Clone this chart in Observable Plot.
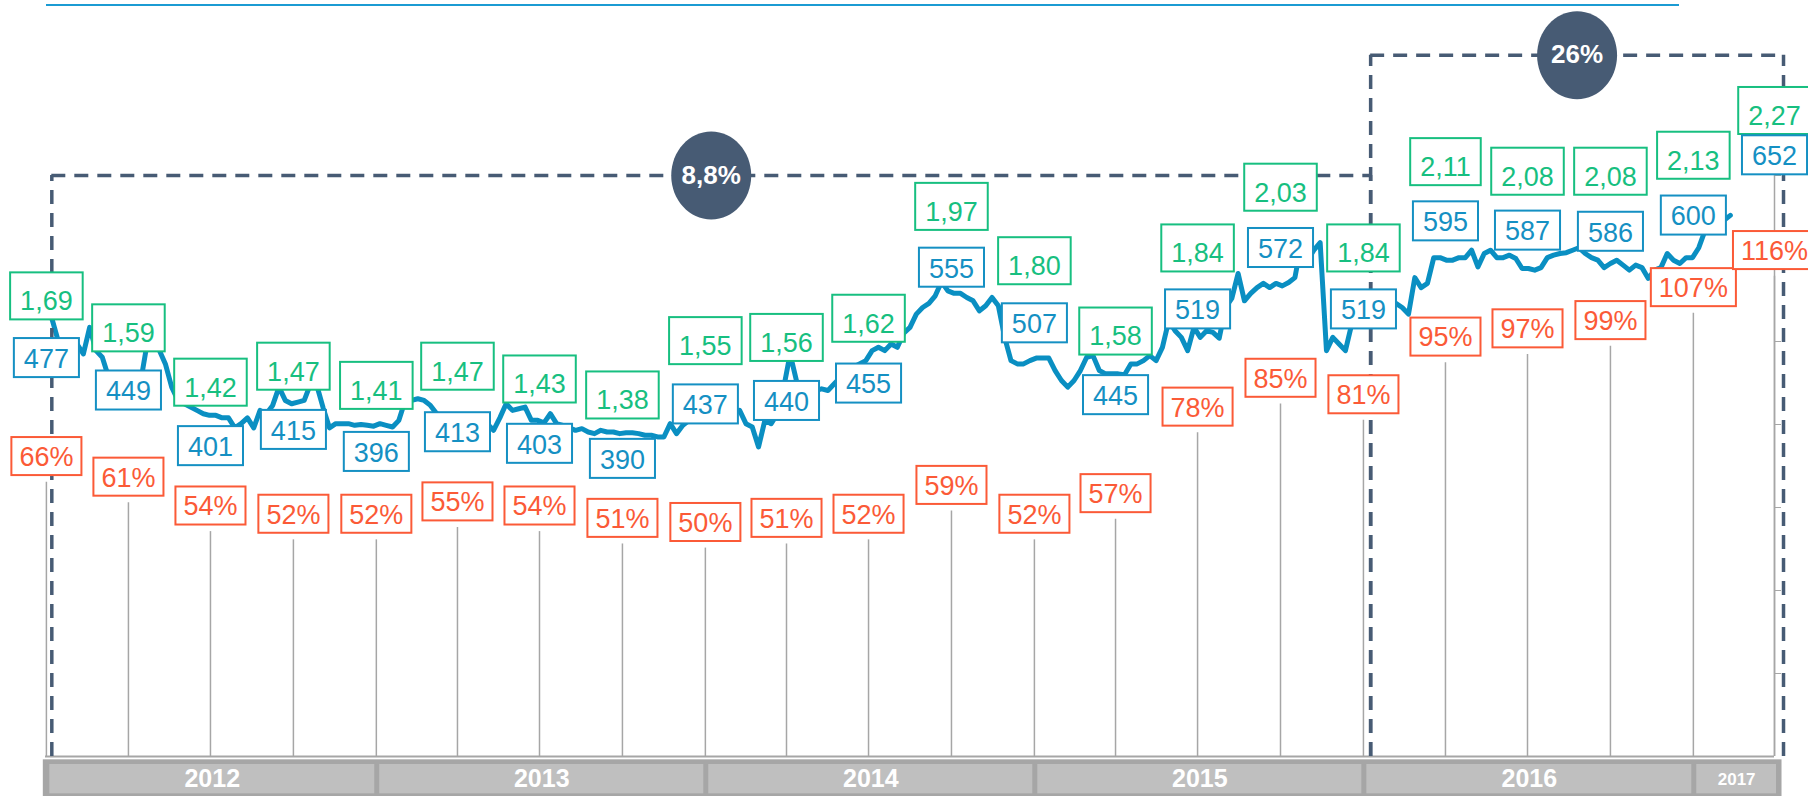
<!DOCTYPE html>
<html>
<head>
<meta charset="utf-8">
<script src="https://cdn.jsdelivr.net/npm/d3@7"></script>
<script src="https://cdn.jsdelivr.net/npm/@observablehq/plot@0.6"></script>
<style>
  html, body { margin: 0; padding: 0; background: #ffffff; }
  #header { height: 10px; position: relative; }
  #header .rule { position: absolute; left: 46px; top: 4px; width: 1633px; height: 2px; background: #1b9bd3; }
  #chart svg { display: block; overflow: visible; }
</style>
</head>
<body>
<div id="header"><div class="rule"></div></div>
<div id="chart"></div>
<script>
// ---------- DATA ----------
const quarterEnds = ["2011-12-31","2012-03-31","2012-06-30","2012-09-30","2012-12-31","2013-03-31","2013-06-30","2013-09-30","2013-12-31","2014-03-31","2014-06-30","2014-09-30","2014-12-31","2015-03-31","2015-06-30","2015-09-30","2015-12-31","2016-03-31","2016-06-30","2016-09-30","2016-12-31","2017-03-31"];
const greenRatio = [1.69,1.59,1.42,1.47,1.41,1.47,1.43,1.38,1.55,1.56,1.62,1.97,1.80,1.58,1.84,2.03,1.84,2.11,2.08,2.08,2.13,2.27];
const bluePrice  = [477,449,401,415,396,413,403,390,437,440,455,555,507,445,519,572,519,595,587,586,600,652];
const redPct     = [66,61,54,52,52,55,54,51,50,51,52,59,52,57,78,85,81,95,97,99,107,116];

const years      = ["2012","2013","2014","2015","2016","2017"];
const yearStarts = ["2012-01-01","2013-01-01","2014-01-01","2015-01-01","2016-01-01","2017-01-01"];
const yearEnds   = ["2013-01-01","2014-01-01","2015-01-01","2016-01-01","2017-01-01","2017-04-05"];

const periodLabels = ["8,8%","26%"];
const periodStarts = ["2012-01-06","2016-01-08"];
const periodEnds   = ["2016-01-08","2017-04-10"];

// weekly closing values, one per week from seriesStart
const seriesStart = "2012-01-06";
const weeklyClose = [
  528,501,493,487,497,485,517,489,481,457,
  457,451,449,448,448,493,493,490,473,445,
  429,425,421,417,413,411,411,408,408,396,
  401,408,396,417,413,423,445,429,425,427,
  429,449,447,420,396,401,401,401,399,400,
  399,398,401,399,397,405,429,429,431,429,
  423,413,408,405,403,401,396,393,397,401,
  393,408,425,417,419,421,405,405,402,413,
  401,399,396,393,395,391,389,393,391,391,
  389,390,390,389,387,387,385,385,401,389,
  399,405,407,408,410,413,413,414,414,417,
  401,397,373,405,401,413,445,485,453,445,
  441,441,443,441,449,457,465,469,473,477,
  489,493,489,497,493,510,517,533,541,546,
  555,572,561,558,558,553,549,537,543,553,
  543,505,477,473,473,477,480,480,480,465,
  453,445,453,465,481,483,465,461,461,461,
  460,473,473,477,483,477,493,525,513,505,
  489,517,505,513,511,504,541,552,582,549,
  558,565,570,565,570,567,571,577,618,598,
  610,619,489,505,497,489,521,525,531,525,
  533,529,541,546,541,533,577,565,570,601,
  601,598,598,601,601,610,590,606,610,601,
  601,604,600,588,588,586,589,601,604,606,
  607,610,613,606,601,598,589,594,598,592,
  586,592,589,576,586,589,606,598,594,601,
  601,613,634,646,654,646,652
];

// ---------- STYLE ----------
const FONT = "'Liberation Sans', Arial, sans-serif";
const GREEN = "#17bf80", BLUE = "#1590c3", RED = "#fb5a37";
const LINE = "#0a8fc2", SLATE = "#475b74", GRAY = "#a6a6a6", LIGHT = "#bfbfbf";
const FS = 27;

// label placement (value -> position on the price scale)
const greenPos = g => 385.1 * g - 95.3;
const bluePos  = v => 1.396 * v - 184.7;
const redPos   = p => 34.9 + 4.964 * p;

// ---------- TABLES ----------
const parse = s => new Date(s + "T00:00:00Z");
const quarters = quarterEnds.map((d, i) => ({date: parse(d), g: greenRatio[i], b: bluePrice[i], r: redPct[i]}));
const start = parse(seriesStart);
const series = weeklyClose.map((v, i) => ({date: d3.utcDay.offset(start, 7 * i), value: v}));
const yearRows = years.map((y, i) => ({label: y, x1: parse(yearStarts[i]), x2: parse(yearEnds[i])}));
const bandRow = [{x1: parse(yearStarts[0]), x2: parse(yearEnds[yearEnds.length - 1])}];
const bracketTop = [700, 845];
const periods = periodLabels.map((l, i) => ({label: l, start: parse(periodStarts[i]), end: parse(periodEnds[i]), top: bracketTop[i]}));
const mid = d => new Date((+d.start + +d.end) / 2);

const ellipse = {
  draw(ctx) {
    const rx = 40, ry = 44, k = 0.5523;
    ctx.moveTo(rx, 0);
    ctx.bezierCurveTo(rx, k * ry, k * rx, ry, 0, ry);
    ctx.bezierCurveTo(-k * rx, ry, -rx, k * ry, -rx, 0);
    ctx.bezierCurveTo(-rx, -k * ry, -k * rx, -ry, 0, -ry);
    ctx.bezierCurveTo(k * rx, -ry, rx, -k * ry, rx, 0);
    ctx.closePath();
  }
};

const dash = {stroke: SLATE, strokeWidth: 3.5, strokeDasharray: "14,9"};

const svg = Plot.plot({
  width: 1808,
  height: 786,
  marginTop: 0,
  marginBottom: 40,
  marginLeft: 45,
  marginRight: 34,
  style: {fontFamily: FONT, color: GRAY, background: "#ffffff", overflow: "visible"},
  x: {type: "utc", domain: [parse("2011-12-30"), parse("2017-03-31")], axis: null},
  y: {domain: [0, 898.8], axis: "right", ticks: [100, 200, 300, 400, 500, 600, 700], tickSize: 6, tickFormat: () => "", label: null},
  marks: [
    // year band
    Plot.rect(bandRow, {x1: "x1", x2: "x2", y1: -4, y2: -48.2, fill: GRAY, insetLeft: -4, insetRight: -3}),
    Plot.rect(yearRows, {x1: "x1", x2: "x2", y1: -9.6, y2: -45, fill: LIGHT, insetLeft: 2.5, insetRight: 2.5}),
    Plot.text(yearRows, {x: d => new Date((+d.x1 + +d.x2) / 2), y: -27.5, text: "label", fill: "white", fontWeight: "bold",
      fontSize: d => d.label === "2017" ? 17 : 25}),
    // stems
    Plot.ruleX(quarters, {x: "date", y1: 0, y2: d => redPos(d.r) - 32, stroke: GRAY, strokeWidth: 1.5}),
    Plot.ruleY([0], {stroke: GRAY, strokeWidth: 2}),
    Plot.ruleX([parse("2017-03-31")], {y1: 0, y2: 700, stroke: GRAY, strokeWidth: 1.5}),
    // price line
    Plot.line(series, {x: "date", y: "value", stroke: LINE, strokeWidth: 5, strokeLinejoin: "round", strokeLinecap: "round"}),
    // period brackets
    Plot.ruleX(periods, {x: "start", y1: 0, y2: "top", ...dash}),
    Plot.ruleX(periods, {x: "end", y1: 0, y2: "top", ...dash}),
    Plot.ruleY(periods, {y: "top", x1: "start", x2: "end", ...dash}),
    Plot.dot(periods, {x: mid, y: "top", symbol: ellipse, r: 40, fill: SLATE, stroke: null}),
    Plot.text(periods, {x: mid, y: "top", text: "label", fill: "white", fontWeight: "bold", fontSize: 26}),
    // labels
    Plot.text(quarters, {x: "date", y: d => greenPos(d.g), text: d => d.g.toFixed(2).replace(".", ","), fill: GREEN, fontSize: FS, dy: 6.2}),
    Plot.text(quarters, {x: "date", y: d => bluePos(d.b), text: d => String(d.b), fill: BLUE, fontSize: FS, dy: 2.2}),
    Plot.text(quarters, {x: "date", y: d => redPos(d.r), text: d => d.r + "%", fill: RED, fontSize: FS, dy: 1.7})
  ]
});

document.getElementById("chart").append(svg);

// framed labels: white box with coloured border behind each label text
function frame(color, padX, padTop, padBottom) {
  svg.querySelectorAll('g[aria-label="text"]').forEach(g => {
    if ((g.getAttribute("fill") || "").toLowerCase() !== color.toLowerCase()) return;
    g.querySelectorAll("text").forEach(t => {
      const bb = t.getBBox();
      const base = bb.y + 0.905 * FS;
      const capTop = base - 0.716 * FS;
      const r = document.createElementNS("http://www.w3.org/2000/svg", "rect");
      r.setAttribute("x", bb.x - padX);
      r.setAttribute("width", bb.width + 2 * padX);
      r.setAttribute("y", capTop - padTop);
      r.setAttribute("height", base - capTop + padTop + padBottom);
      r.setAttribute("fill", "#ffffff");
      r.setAttribute("stroke", color);
      r.setAttribute("stroke-width", 2);
      const tr = t.getAttribute("transform");
      if (tr) r.setAttribute("transform", tr);
      g.insertBefore(r, t);
    });
  });
}
frame(GREEN, 10, 19, 8.7);
frame(BLUE, 10, 11, 8.7);
frame(RED, 8, 10, 8.7);
</script>
</body>
</html>
